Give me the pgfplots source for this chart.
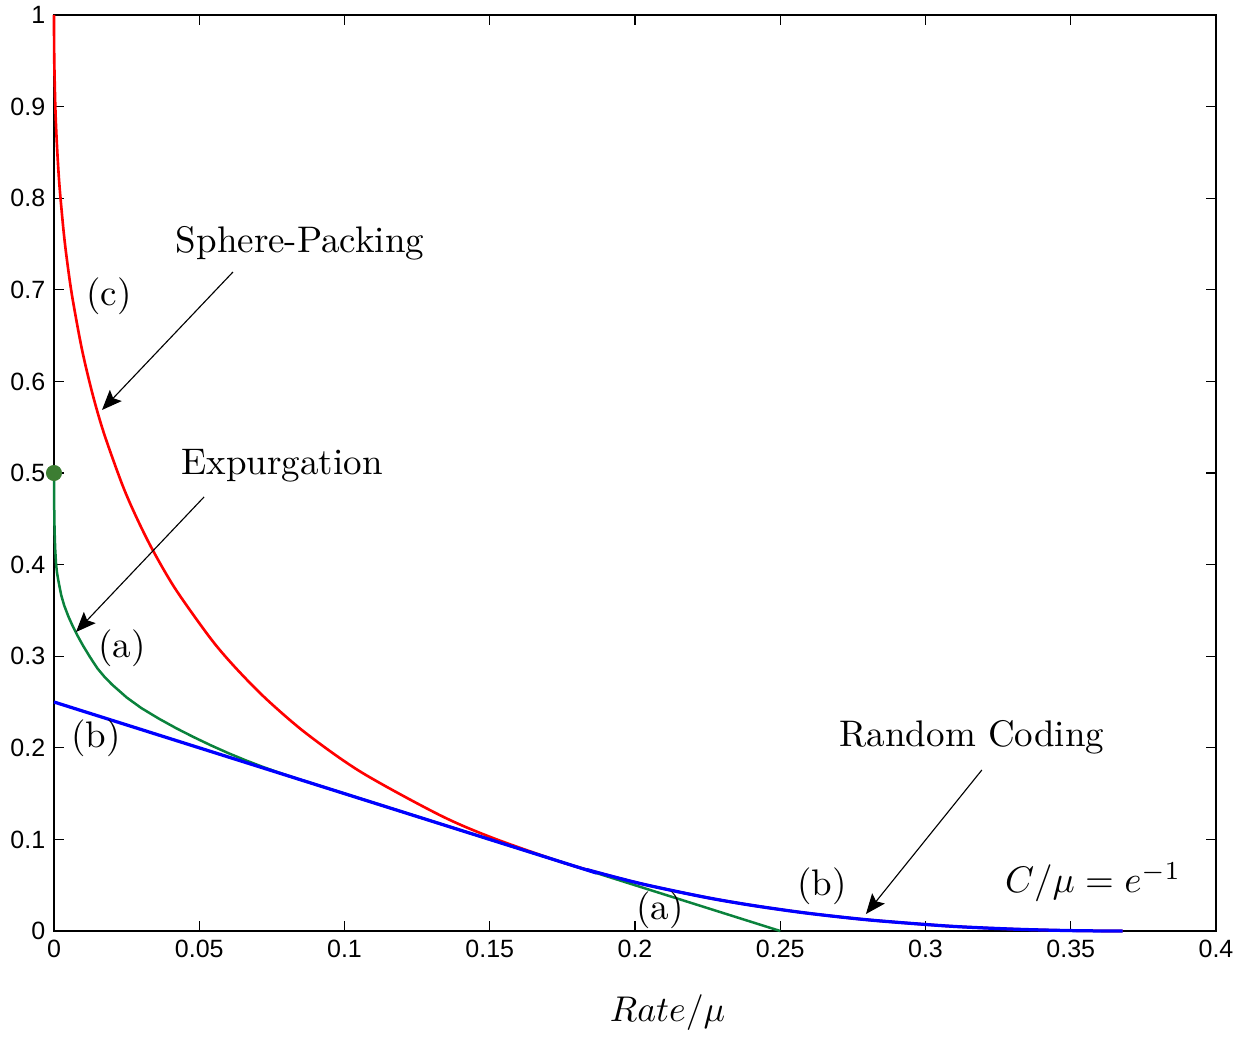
\documentclass[border=0pt]{standalone}
\usepackage{pgfplots}
\pgfplotsset{compat=1.18}
\usepackage{graphicx}
\usepackage{fontspec}
\newfontfamily\ticksans{Liberation Sans}
\newfontfamily\annrm{lmroman10-regular.otf}
\usetikzlibrary{arrows.meta}
\definecolor{spred}{RGB}{255,0,0}
\definecolor{rcblue}{RGB}{0,0,255}
\definecolor{exgreen}{RGB}{10,130,60}
\definecolor{dotgreen}{RGB}{60,125,50}
\newcommand{\annfont}{\annrm\fontsize{14.8}{18}\selectfont}
\begin{document}
\begin{tikzpicture}
\begin{axis}[
  scale only axis,
  width=464.8pt, height=366.4pt,
  xmin=0, xmax=0.4, ymin=0, ymax=1,
  xtick={0,0.05,...,0.4}, ytick={0,0.1,...,1},
  xticklabels={0,0.05,0.1,0.15,0.2,0.25,0.3,0.35,0.4},
  yticklabels={0,0.1,0.2,0.3,0.4,0.5,0.6,0.7,0.8,0.9,1},
  scaled ticks=false,
  tick align=inside,
  xtick pos=both, ytick pos=both,
  major tick length=4pt,
  tick style={black, line width=0.5pt},
  axis line style={black, line width=0.7pt},
  ticklabel style={font=\ticksans\fontsize{10}{12}\selectfont},
  /pgf/number format/assume math mode=true,
  xlabel={\scalebox{1.43}{$Rate/\mu$}},
  xlabel style={at={(axis description cs:0.528,-0.0895)}, anchor=center},
  clip=false,
]
% Sphere-packing
\addplot[spred, line width=1.05pt, smooth, tension=0.5] coordinates {
(0,1)
(0.00000685,0.98514)
(0.0000620,0.959395)
(0.0001285,0.943305)
(0.000436,0.901864)
(0.000807,0.871219)
(0.001425,0.834986)
(0.002064,0.806575)
(0.003293,0.764278)
(0.004400,0.734051)
(0.006225,0.693394)
(0.009603,0.635238)
(0.013278,0.586096)
(0.017151,0.543756)
(0.023188,0.489905)
(0.027590,0.456997)
(0.033499,0.418743)
(0.041738,0.373667)
(0.053815,0.319733)
(0.062138,0.288603)
(0.072776,0.254143)
(0.086743,0.215900)
(0.105714,0.173472)
(0.132650,0.126754)
(0.150711,0.102001)
(0.173287,0.076713)
(0.183956,0.066586)
(0.202177,0.051586)
(0.223683,0.037121)
(0.240276,0.028010)
(0.259083,0.019567)
(0.280562,0.012074)
(0.305295,0.005920)
(0.319115,0.003506)
(0.334057,0.001644)
(0.350250,0.000434)
(0.360648,0.0000719)
(0.367879,0)
};
% Expurgation
\addplot[exgreen, line width=1.0pt] coordinates {
(0,0.5)
(0.00003,0.478)
(0.0001,0.4549)
(0.0002,0.4378)
(0.0004,0.4176)
(0.0007,0.4013)
(0.001,0.392)
(0.0015,0.3825)
(0.0025,0.3665)
(0.0035,0.3555)
(0.005,0.343)
(0.0065,0.3325)
(0.008,0.323)
(0.010,0.3115)
(0.0125,0.2985)
(0.015,0.2865)
(0.0175,0.277)
(0.020,0.269)
(0.025,0.255)
(0.030,0.2435)
(0.036,0.232)
(0.042,0.2215)
(0.048,0.2118)
(0.054,0.2027)
(0.060,0.1942)
(0.066,0.1863)
(0.072,0.179)
(0.078,0.1723)
(0.084,0.166)
(0.25,0)
};
% Random coding
\addplot[rcblue, line width=1.3pt, smooth, tension=0.5] coordinates {
(0,0.25)
(0.173287,0.076713)
(0.183956,0.066586)
(0.202177,0.051586)
(0.223683,0.037121)
(0.240276,0.028010)
(0.259083,0.019567)
(0.280562,0.012074)
(0.305295,0.005920)
(0.319115,0.003506)
(0.334057,0.001644)
(0.350250,0.000434)
(0.360648,0.0000719)
(0.367879,0)
};
\addplot[only marks, mark=*, mark size=3pt, color=dotgreen] coordinates {(0,0.5)};

% annotations
\node[font=\annfont] at (axis cs:0.0847,0.751) {Sphere-Packing};
\draw[black, line width=0.45pt, -{Stealth[length=8pt,width=6.5pt,inset=1.5pt]}] (axis cs:0.0616,0.7194) -- (axis cs:0.01652,0.5688);
\node[font=\annfont] at (axis cs:0.01893,0.6932) {(c)};
\node[font=\annfont] at (axis cs:0.0785,0.5076) {Expurgation};
\draw[black, line width=0.45pt, -{Stealth[length=8pt,width=6.5pt,inset=1.5pt]}] (axis cs:0.05164,0.4738) -- (axis cs:0.00757,0.3264);
\node[font=\annfont] at (axis cs:0.02341,0.3090) {(a)};
\node[font=\annfont] at (axis cs:0.01446,0.2107) {(b)};
\node[font=\annfont] at (axis cs:0.3160,0.2118) {Random Coding};
\draw[black, line width=0.45pt, -{Stealth[length=8pt,width=6.5pt,inset=1.5pt]}] (axis cs:0.3194,0.1758) -- (axis cs:0.2795,0.01856);
\node[font=\annfont] at (axis cs:0.2644,0.0491) {(b)};
\node[font=\annfont] at (axis cs:0.2086,0.0229) {(a)};
\node at (axis cs:0.3577,0.0535) {\scalebox{1.48}{$C/\mu = e^{-1}$}};
\end{axis}
\pgfresetboundingbox
\path ([shift={(-21.6pt,-42pt)}]current axis.south west) rectangle ([shift={(10pt,6pt)}]current axis.north east);
\end{tikzpicture}
\end{document}
